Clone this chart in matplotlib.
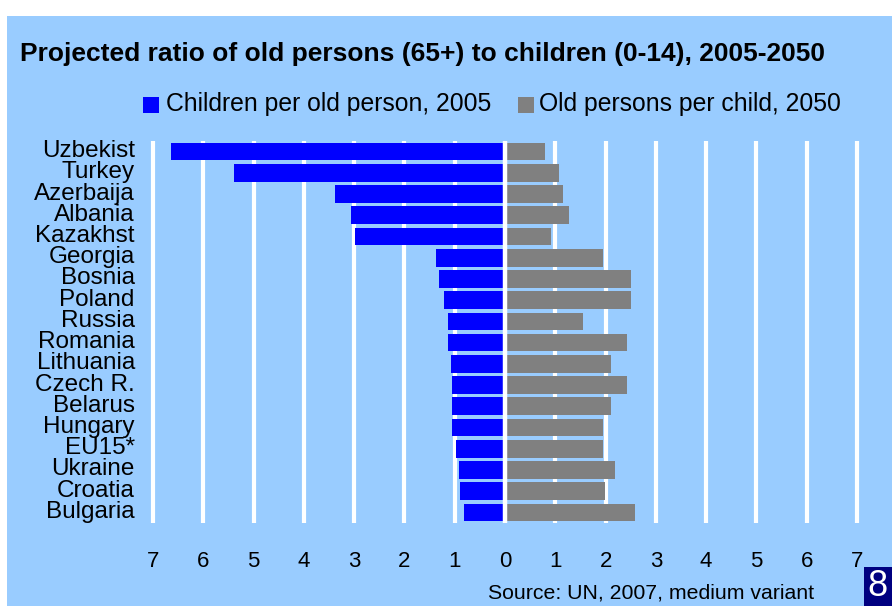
import matplotlib
matplotlib.use("Agg")
import matplotlib.pyplot as plt
from matplotlib.patches import Rectangle
from matplotlib.transforms import ScaledTranslation

countries = ["Uzbekist", "Turkey", "Azerbaija", "Albania", "Kazakhst", "Georgia",
             "Bosnia", "Poland", "Russia", "Romania", "Lithuania", "Czech R.",
             "Belarus", "Hungary", "EU15*", "Ukraine", "Croatia", "Bulgaria"]
children_per_old_2005 = [6.65, 5.38, 3.39, 3.07, 2.99, 1.37, 1.31, 1.22, 1.14, 1.14,
                         1.08, 1.06, 1.06, 1.06, 0.98, 0.92, 0.90, 0.82]
old_per_child_2050 = [0.80, 1.08, 1.16, 1.27, 0.92, 1.95, 2.51, 2.51, 1.55, 2.43,
                      2.11, 2.43, 2.11, 1.95, 1.95, 2.19, 1.99, 2.59]
xticks = [-7, -6, -5, -4, -3, -2, -1, 0, 1, 2, 3, 4, 5, 6, 7]
xticklabels = ["7", "6", "5", "4", "3", "2", "1", "0", "1", "2", "3", "4", "5", "6", "7"]

BG = "#99CCFF"
W, H = 892, 606
fig = plt.figure(figsize=(W / 100, H / 100), dpi=100)
fig.patch.set_facecolor("white")
plt.rcParams['font.family'] = ['Liberation Sans', 'DejaVu Sans']

# blue panel
fig.patches.append(Rectangle((7 / W, 0), 1 - 7 / W, 1 - 16 / H, transform=fig.transFigure,
                             facecolor=BG, edgecolor="none", zorder=-5))

# axes: x from 148 to 862 px, y from 141 to 523 px
ax_l, ax_r = 148, 862
ax_t, ax_b = 141, 523
ax = fig.add_axes([ax_l / W, 1 - ax_b / H, (ax_r - ax_l) / W, (ax_b - ax_t) / H])
ax.set_zorder(2)
ax.set_facecolor("none")
for s in ax.spines.values():
    s.set_visible(False)

n = len(countries)
ypos = list(range(n))
ax.barh(ypos, [-v for v in children_per_old_2005], height=0.83, color="#0000FF", zorder=2)
ax.barh(ypos, old_per_child_2050, height=0.83, color="#808080", zorder=2)
ax.set_ylim(n - 0.5, -0.5)
ax.set_xlim(-7.1, 7.1)

for t in xticks:
    ax.axvline(t, color="white", lw=3.0 if t != 0 else 3.2, zorder=1 if t != 0 else 3)

ax.set_yticks(ypos)
ax.set_yticklabels(countries, fontsize=17.5)
ax.tick_params(axis="y", length=0, pad=9.5)
shift = ScaledTranslation(0, 0.03, fig.dpi_scale_trans)
for lab in ax.get_yticklabels():
    lab.set_transform(lab.get_transform() + shift)
ax.set_xticks(xticks)
ax.set_xticklabels(xticklabels, fontsize=16)
ax.tick_params(axis="x", length=0, pad=20)

fig.text(20 / W, 1 - 54 / H, "Projected ratio of old persons (65+) to children (0-14), 2005-2050",
         fontsize=19, fontweight="bold", va="center", ha="left")

# legend
fig.patches.append(Rectangle((143 / W, 1 - 113 / H), 16 / W, 16 / H, transform=fig.transFigure,
                             facecolor="#0000FF", edgecolor="none"))
fig.text(166 / W, 1 - 104 / H, "Children per old person, 2005", fontsize=17.8, va="center", ha="left")
fig.patches.append(Rectangle((518 / W, 1 - 113 / H), 16 / W, 16 / H, transform=fig.transFigure,
                             facecolor="#808080", edgecolor="none"))
fig.text(539 / W, 1 - 104 / H, "Old persons per child, 2050", fontsize=17.8, va="center", ha="left")

fig.text(488 / W, 1 - 593 / H, "Source: UN, 2007, medium variant", fontsize=15.3, va="center", ha="left")

# page number box
fig.patches.append(Rectangle((864 / W, 0), 28 / W, 39 / H, transform=fig.transFigure,
                             facecolor="#000080", edgecolor="none"))
fig.text(867 / W, 1 - 587 / H, "8", fontsize=26, color="white", va="center", ha="left")

fig.savefig("out.png", dpi=100, facecolor=fig.get_facecolor())
